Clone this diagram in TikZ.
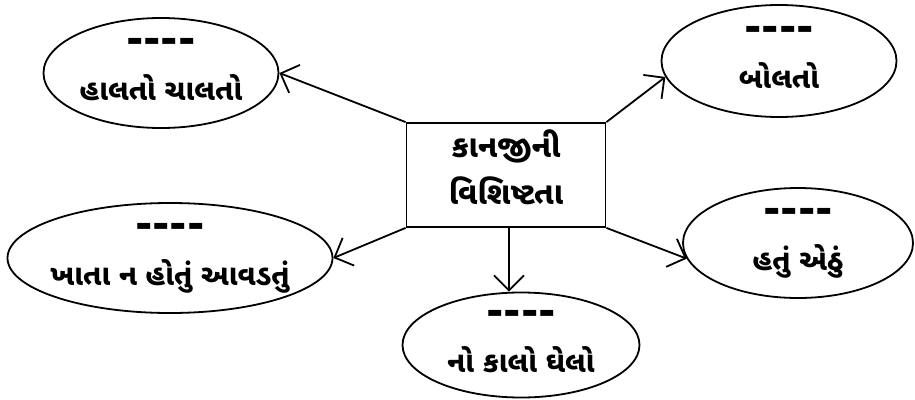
\documentclass[tikz,border=0pt]{standalone}
\usepackage{fontspec}
\newfontfamily\guj[Script=Gujarati]{Noto Sans Gujarati UI}
\newfontfamily\dashfont[Ligatures=TeXOff]{DejaVu Sans}
\usetikzlibrary{shapes.geometric,arrows.meta}
\newcommand{\blank}{{\dashfont\bfseries\fontsize{42}{20}\selectfont ----}}

\begin{document}
\begin{tikzpicture}[x=1pt,y=-1pt,
    oval/.style={ellipse, draw, line width=1.8pt, inner sep=-30pt, align=center,
        text depth=8pt, font=\guj\bfseries\fontsize{29}{47}\selectfont},
    topic/.style={rectangle, draw, line width=1.8pt, inner sep=0pt, align=center,
        minimum width=199pt, minimum height=104pt, text depth=16pt,
        font=\guj\bfseries\fontsize{31}{47}\selectfont},
    link/.style={line width=1.8pt, -{Straight Barb[length=15pt,width=30pt,line width=1.8pt]}}]

\useasboundingbox (0,0) rectangle (915,399);

% centre box
    \node[topic] (topic) at (506,175) {કાનજીની\\વિશિષ્ટતા};

% ovals
    \node[oval, minimum width=235pt, minimum height=110pt] (walk) at (161,73) {\blank\\હાલતો ચાલતો};
    \node[oval, minimum width=235pt, minimum height=112pt] (talk) at (779,61) {\blank\\બોલતો};
    \node[oval, minimum width=325pt, minimum height=110pt] (eat) at (170,258) {\blank\\ખાતા ન હોતું આવડતું};
    \node[oval, minimum width=237pt, minimum height=105pt] (fool) at (521,345) {\blank\\નો કાલો ઘેલો};
    \node[oval, minimum width=230pt, minimum height=110pt] (such) at (798,243) {\blank\\હતું એઠું};

% links
    \draw[link] (topic.north west) -- (walk.east);
    \draw[link] (topic.north east) -- (talk.188);
    \draw[link] (topic.south west) -- (eat.east);
    \draw[link] ([xshift=3pt]topic.south) -- ([xshift=3pt]topic.south |- fool.north);
    \draw[link] (topic.south east) -- (such.188);

\end{tikzpicture}
\end{document}
